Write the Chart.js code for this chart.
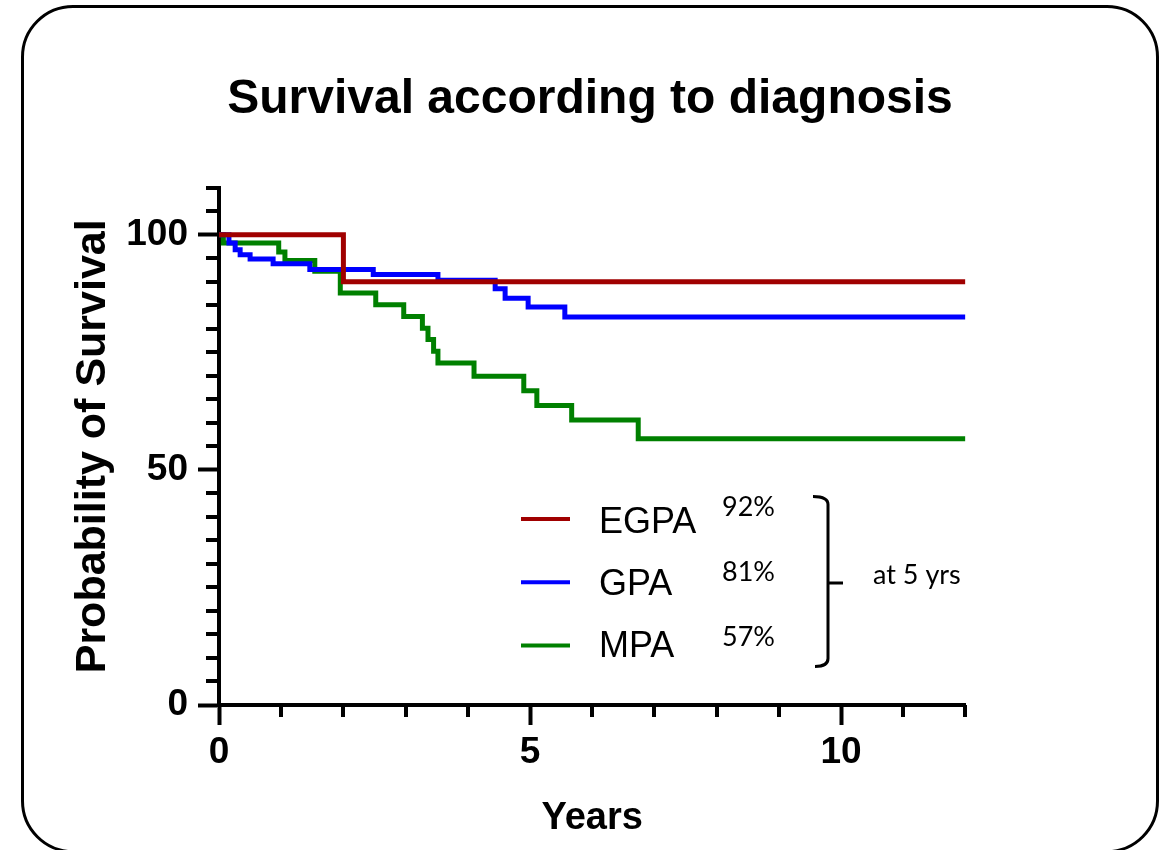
<!DOCTYPE html>
<html>
<head>
<meta charset="UTF-8">
<title>Survival according to diagnosis</title>
<script src="https://cdn.jsdelivr.net/npm/chart.js"></script>
<style>
  html, body { margin: 0; padding: 0; background: #fff; overflow: hidden; }
  .frame {
    position: absolute; left: 21px; top: 5px; width: 1138px; height: 848px;
    box-sizing: border-box; border: 3px solid #000; border-radius: 52px;
  }
  #km { position: absolute; left: 0; top: 0; }
</style>
</head>
<body>
<div class="frame"></div>
<canvas id="km" width="1171" height="850"></canvas>

<script>
// Kaplan-Meier steps: time of each drop (years) and survival after it (%)
const egpaYears = [0, 2.0, 12];
const egpaSurvival = [100, 90, 90];

const gpaYears = [0, 0.16, 0.26, 0.34, 0.50, 0.87, 1.46, 2.48, 3.52, 4.44, 4.60, 4.97, 5.56, 12];
const gpaSurvival = [100, 98.2, 96.8, 95.7, 94.8, 93.8, 92.6, 91.5, 90.3, 88.5, 86.5, 84.6, 82.5, 82.5];

const mpaYears = [0, 0.07, 0.96, 1.06, 1.54, 1.95, 2.52, 2.97, 3.27, 3.36, 3.45, 3.52, 4.10, 4.90, 5.11, 5.67, 6.74, 12];
const mpaSurvival = [100, 98.2, 96.3, 94.5, 92.2, 87.6, 85.1, 82.6, 80.1, 77.7, 75.2, 72.7, 69.9, 66.8, 63.7, 60.6, 56.6, 56.6];

const groups = ['EGPA', 'GPA', 'MPA'];
const fiveYearSurvival = ['92%', '81%', '57%'];
const groupColors = ['#a00000', '#0000ff', '#008000'];

const xTickLabels = [0, 5, 10];
const yTickLabels = [0, 50, 100];

function toPoints(xs, ys) {
  return xs.map((x, i) => ({ x: x, y: ys[i] }));
}

const series = [
  toPoints(egpaYears, egpaSurvival),
  toPoints(gpaYears, gpaSurvival),
  toPoints(mpaYears, mpaSurvival)
];

Chart.defaults.font.family = '"Liberation Sans", Arial, sans-serif';
Chart.defaults.color = '#000';

// minor ticks, legend with 5-year figures and the bracket
const extras = {
  id: 'extras',
  afterDraw(chart) {
    const ctx = chart.ctx;
    const area = chart.chartArea;
    const xs = chart.scales.x, ys = chart.scales.y;
    ctx.save();

    ctx.strokeStyle = '#000';
    ctx.lineWidth = 4;
    ctx.beginPath();
    for (let v = 0; v <= 12; v++) {
      if (xTickLabels.includes(v)) continue;
      const px = Math.round(xs.getPixelForValue(v));
      ctx.moveTo(px, area.bottom);
      ctx.lineTo(px, area.bottom + 12);
    }
    for (let v = 0; v <= 110; v += 5) {
      if (yTickLabels.includes(v)) continue;
      const py = Math.round(ys.getPixelForValue(v));
      ctx.moveTo(area.left, py);
      ctx.lineTo(area.left - 13, py);
    }
    ctx.stroke();

    // legend
    const lx = area.left + 302;
    groups.forEach((name, i) => {
      const ly = area.top + 331.5 + i * 63.2;
      ctx.strokeStyle = groupColors[i];
      ctx.lineWidth = 4;
      ctx.beginPath();
      ctx.moveTo(lx, ly);
      ctx.lineTo(lx + 49, ly);
      ctx.stroke();

      ctx.fillStyle = '#000';
      ctx.textBaseline = 'alphabetic';
      ctx.textAlign = 'left';
      ctx.font = '36px "Liberation Sans", Arial, sans-serif';
      ctx.fillText(name, lx + 78, area.top + 345.5 + i * 62);
      ctx.font = '27px Lato, sans-serif';
      ctx.fillText(fiveYearSurvival[i], lx + 201, area.top + 328.7 + i * 65);
    });

    // bracket
    const bx = area.left + 609;
    const top = area.top + 309, bottom = area.top + 479, mid = area.top + 395.5;
    ctx.strokeStyle = '#000';
    ctx.lineWidth = 3;
    ctx.beginPath();
    ctx.moveTo(bx - 15, top);
    ctx.quadraticCurveTo(bx, top, bx, top + 8);
    ctx.lineTo(bx, bottom - 8);
    ctx.quadraticCurveTo(bx, bottom, bx - 13, bottom);
    ctx.moveTo(bx, mid);
    ctx.lineTo(bx + 15, mid);
    ctx.stroke();

    ctx.fillStyle = '#000';
    ctx.font = '27px Lato, sans-serif';
    ctx.fillText('at 5 yrs', bx + 45, mid + 1);

    ctx.restore();
  }
};

const tickFont = { size: 37, weight: 'bold' };

new Chart(document.getElementById('km'), {
  type: 'line',
  data: {
    datasets: groups.map((name, i) => ({
      label: name,
      data: series[i],
      stepped: true,
      borderColor: groupColors[i],
      borderWidth: 5,
      pointRadius: 0,
      fill: false
    }))
  },
  options: {
    responsive: false,
    animation: false,
    events: [],
    layout: { padding: { left: 9, top: 0, right: 0, bottom: 0 } },
    plugins: {
      legend: { display: false },
      tooltip: { enabled: false },
      title: {
        display: true,
        text: 'Survival according to diagnosis',
        color: '#000',
        font: { size: 48, weight: 'bold' },
        padding: { top: 71, bottom: 59 }
      }
    },
    scales: {
      x: {
        type: 'linear',
        min: 0,
        max: 12,
        afterFit: s => { s.height = 145; },
        border: { color: '#000', width: 4 },
        grid: {
          drawOnChartArea: false,
          tickLength: 20,
          tickWidth: 4,
          tickColor: c => xTickLabels.includes(c.tick.value) ? '#000' : 'rgba(0,0,0,0)'
        },
        ticks: {
          stepSize: 1,
          maxTicksLimit: 50,
          autoSkip: false,
          maxRotation: 0,
          padding: 6,
          font: tickFont,
          callback: v => xTickLabels.includes(v) ? String(v) : ''
        },
        title: {
          display: true,
          text: 'Years',
          font: { size: 38, weight: 'bold' },
          padding: { top: 0, bottom: 9 }
        }
      },
      y: {
        type: 'linear',
        min: 0,
        max: 110,
        afterFit: s => { s.width = 210; },
        border: { color: '#000', width: 4 },
        grid: {
          drawOnChartArea: false,
          tickLength: 21,
          tickWidth: 4,
          tickColor: c => yTickLabels.includes(c.tick.value) ? '#000' : 'rgba(0,0,0,0)'
        },
        ticks: {
          stepSize: 5,
          maxTicksLimit: 50,
          autoSkip: false,
          padding: 10,
          font: tickFont,
          callback: v => yTickLabels.includes(v) ? String(v) : ''
        },
        title: {
          display: true,
          text: 'Probability of Survival',
          font: { size: 43, weight: 'bold' },
          padding: { top: 58, bottom: 0 }
        }
      },
      // empty space to the right of the plot, keeps the title centred on the page
      spacer: {
        type: 'linear',
        position: 'right',
        display: true,
        afterFit: s => { s.width = 205.6; },
        grid: { display: false },
        border: { display: false },
        ticks: { display: false }
      }
    }
  },
  plugins: [extras]
});
</script>
</body>
</html>
